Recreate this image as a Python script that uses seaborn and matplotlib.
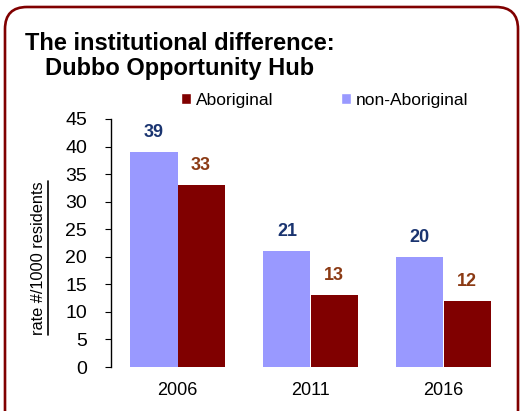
import pandas as pd
import matplotlib
matplotlib.use("Agg")
import matplotlib.pyplot as plt
import seaborn as sns
from matplotlib.patches import FancyBboxPatch, Patch
from matplotlib.lines import Line2D
from matplotlib.transforms import IdentityTransform

# data
years = ["2006", "2011", "2016"]
non_aboriginal = [39, 21, 20]
aboriginal = [33, 13, 12]

df = pd.DataFrame({
    "year": years * 2,
    "group": ["non-Aboriginal"] * 3 + ["Aboriginal"] * 3,
    "rate": non_aboriginal + aboriginal,
})

purple = "#9999FF"
maroon = "#800000"
navy = "#1a3470"
brown = "#8b3a14"

sns.set_style("white")
plt.rcParams["font.family"] = ["Liberation Sans", "DejaVu Sans"]
plt.rcParams["text.color"] = "black"
plt.rcParams["xtick.color"] = "black"
plt.rcParams["ytick.color"] = "black"
plt.rcParams["axes.labelcolor"] = "black"

fig = plt.figure(figsize=(5.28, 4.11), dpi=100)
ax = fig.add_axes([111 / 528, 1 - 367 / 411, 399 / 528, 248 / 411])

sns.barplot(data=df, x="year", y="rate", hue="group",
            hue_order=["non-Aboriginal", "Aboriginal"],
            palette=[purple, maroon], saturation=1, width=0.71, gap=0,
            linewidth=0, legend=False, ax=ax)

# value labels above bars
ax.bar_label(ax.containers[0], padding=8, color=navy, fontsize=13, fontweight="bold")
ax.bar_label(ax.containers[1], padding=8, color=brown, fontsize=13, fontweight="bold")

ax.set_ylim(0, 45)
ax.set_yticks(range(0, 50, 5))
ax.set_xlim(-0.5, 2.5)
ax.set_xlabel("")
ax.set_ylabel("")
for s in ["top", "right", "bottom"]:
    ax.spines[s].set_visible(False)
ax.spines["left"].set_color("black")
ax.spines["left"].set_linewidth(1)
ax.tick_params(axis="y", left=True, length=4.3, width=0.8, pad=13, labelsize=14,
               color="black", labelcolor="black")
ax.tick_params(axis="x", length=0, pad=11, labelsize=13, labelcolor="black")

# y label, underlined
ylab = fig.text(39 / 528, 1 - 258 / 411, "rate #/1000 residents", rotation=90,
                ha="center", va="center", fontsize=11.8)
fig.canvas.draw()
bb = ylab.get_window_extent()
fig.add_artist(Line2D([bb.x1 + 1, bb.x1 + 1], [bb.y0, bb.y1], color="black",
                      linewidth=1.2, transform=IdentityTransform()))

# title
fig.text(25 / 528, 1 - 43 / 411, "The institutional difference:", fontsize=17,
         fontweight="bold", ha="left", va="center")
fig.text(45 / 528, 1 - 68 / 411, "Dubbo Opportunity Hub", fontsize=17,
         fontweight="bold", ha="left", va="center")

# legend
handles = [Patch(facecolor=maroon, label="Aboriginal"),
           Patch(facecolor=purple, label="non-Aboriginal")]
fig.legend(handles=handles, loc="center left", bbox_to_anchor=(181 / 528, 1 - 100 / 411),
           ncol=2, frameon=False, fontsize=12.5, handlelength=0.6, handleheight=0.6,
           handletextpad=0.25, columnspacing=3.9, borderpad=0, borderaxespad=0)

# rounded border
fig.add_artist(FancyBboxPatch((5, -40), 513, 444,
                              boxstyle="round,pad=0,rounding_size=22",
                              facecolor="none", edgecolor=maroon, linewidth=1.9,
                              transform=IdentityTransform()))

fig.savefig("out.png", dpi=100)
